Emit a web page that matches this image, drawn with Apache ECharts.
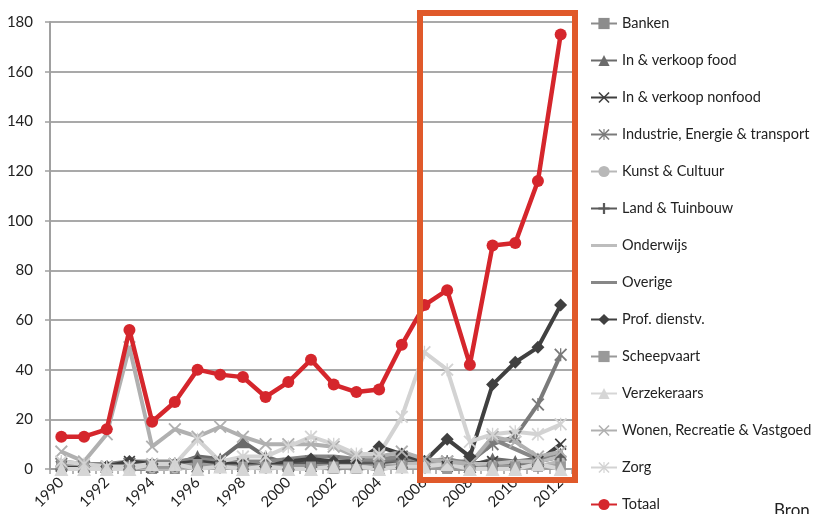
<!DOCTYPE html>
<html>
<head>
<meta charset="utf-8">
<script src="https://cdn.jsdelivr.net/npm/echarts@6/dist/echarts.min.js"></script>
<style>
  html, body { margin: 0; padding: 0; background: #fff; }
  #chart { width: 813px; height: 514px; }
</style>
</head>
<body>
<div id="chart"></div>
<script>
const years = ['1990', '1991', '1992', '1993', '1994', '1995', '1996', '1997', '1998', '1999', '2000', '2001',
  '2002', '2003', '2004', '2005', '2006', '2007', '2008', '2009', '2010', '2011', '2012'];

const banken = [2, 1, 0, 0, 0, 0, 2, 1, 2, 1, 1, 1, 0, 1, 0, 1, 1, 1, 0, 1, 1, 1, 2];
const inVerkoopFood = [2, 1, 1, 2, 1, 2, 5, 4, 11, 5, 2, 3, 2, 2, 3, 3, 2, 3, 1, 4, 3, 4, 6];
const inVerkoopNonfood = [1, 1, 1, 3, 2, 2, 1, 1, 1, 1, 1, 1, 1, 1, 0, 2, 1, 1, 2, 3, 0, 3, 10];
const industrie = [2, 1, 1, 2, 1, 2, 1, 3, 2, 1, 2, 3, 3, 2, 3, 5, 3, 3, 3, 10, 13, 26, 46];
const kunstCultuur = [1, 0, 0, 1, 0, 0, 1, 1, 1, 0, 1, 1, 1, 1, 1, 2, 1, 1, 1, 2, 2, 1, 3];
const landTuinbouw = [1, 1, 1, 1, 1, 1, 1, 1, 1, 1, 2, 2, 2, 2, 2, 2, 2, 2, 1, 2, 2, 3, 5];
const onderwijs = [1, 1, 1, 1, 1, 1, 1, 1, 1, 1, 1, 1, 1, 1, 1, 2, 2, 2, 2, 2, 3, 3, 5];
const overige = [3, 2, 2, 3, 3, 3, 4, 3, 3, 3, 4, 5, 5, 4, 4, 5, 3, 4, 2, 12, 8, 4, 7];
const profDienstv = [1, 1, 1, 3, 2, 2, 3, 2, 2, 1, 3, 4, 3, 3, 9, 6, 3, 12, 5, 34, 43, 49, 66];
const scheepvaart = [2, 2, 0, 1, 1, 1, 2, 1, 1, 1, 1, 1, 1, 0, 1, 1, 1, 0, 0, 1, 1, 1, 1];
const verzekeraars = [0, 0, 0, 0, 2, 2, 0, 1, 0, 1, 0, 0, 1, 1, 0, 1, 1, 2, 0, 0, 0, 2, 0];
const wonen = [7, 3, 14, 49, 9, 16, 13, 17, 13, 10, 10, 10, 9, 5, 5, 7, 4, 3, 2, 13, 11, 5, 7];
const zorg = [3, 2, 1, 1, 2, 2, 12, 3, 5, 5, 9, 13, 10, 6, 6, 21, 47, 40, 11, 14, 15, 14, 18];
const totaal = [13, 13, 16, 56, 19, 27, 40, 38, 37, 29, 35, 44, 34, 31, 32, 50, 66, 72, 42, 90, 91, 116, 175];

const yTicks = [0, 20, 40, 60, 80, 100, 120, 140, 160, 180];

// marker shapes that ECharts does not ship
const xMark = 'path://M2,0L10,8L18,0L20,2L12,10L20,18L18,20L10,12L2,20L0,18L8,10L0,2Z';
const starMark = xMark + 'M9,0L11,0L11,20L9,20Z';
const plusMark = 'path://M8,0L12,0L12,8L20,8L20,12L12,12L12,20L8,20L8,12L0,12L0,8L8,8Z';
// plain line for the legend of series without markers (tiny dots keep the box 26x14)
const lineIcon = 'path://M0,0L0.01,0L0,0.01ZM0,5.5L26,5.5L26,8.5L0,8.5ZM0,14L0.01,14L0,13.99Z';

function grey(name, data, color, symbol, size) {
  return {
    name,
    type: 'line',
    data,
    symbol: symbol || 'none',
    symbolSize: size || 10,
    showSymbol: !!symbol,
    lineStyle: { width: 4, color },
    itemStyle: { color },
    emphasis: { disabled: true },
    z: 2
  };
}

const series = [
  grey('Banken', banken, '#8c8c8c', 'rect', 10),
  grey('In & verkoop food', inVerkoopFood, '#6b6b6b', 'triangle', 13),
  grey('In & verkoop nonfood', inVerkoopNonfood, '#3f3f3f', xMark, 12),
  grey('Industrie, Energie & transport', industrie, '#7a7a7a', starMark, 13),
  grey('Kunst & Cultuur', kunstCultuur, '#b8b8b8', 'circle', 9),
  grey('Land & Tuinbouw', landTuinbouw, '#5a5a5a', plusMark, 11),
  grey('Onderwijs', onderwijs, '#bdbdbd'),
  grey('Overige', overige, '#878787'),
  grey('Prof. dienstv.', profDienstv, '#404040', 'diamond', 13),
  grey('Scheepvaart', scheepvaart, '#999999', 'rect', 10),
  grey('Verzekeraars', verzekeraars, '#d6d6d6', 'triangle', 14),
  grey('Wonen, Recreatie & Vastgoed', wonen, '#b0b0b0', xMark, 13),
  grey('Zorg', zorg, '#d3d3d3', starMark, 13),
  {
    name: 'Totaal',
    type: 'line',
    data: totaal,
    symbol: 'circle',
    symbolSize: 12,
    lineStyle: { width: 4.5, color: '#d5262c' },
    itemStyle: { color: '#d5262c' },
    emphasis: { disabled: true },
    z: 5
  }
];

const legendBase = {
  orient: 'vertical',
  left: 585,
  padding: 5,
  itemWidth: 26,
  itemHeight: 14,
  itemGap: 22,
  selectedMode: false,
  textStyle: { fontSize: 14.5, color: '#222', fontFamily: 'Lato' }
};

const legendItems = series.map(s => (s.symbol === 'none' ? { name: s.name, icon: lineIcon } : s.name));

const chart = echarts.init(document.getElementById('chart'), null, { renderer: 'canvas' });

chart.setOption({
  animation: false,
  textStyle: { fontFamily: 'Lato' },
  grid: { left: 50, right: 241, top: 22, bottom: 45, containLabel: false },
  legend: [
    { ...legendBase, top: 11, data: legendItems.slice(0, 13) },
    { ...legendBase, top: 492, data: legendItems.slice(13) }
  ],
  xAxis: [
    {
      type: 'category',
      data: years,
      boundaryGap: true,
      axisLine: { lineStyle: { color: '#a0a0a0', width: 2 } },
      axisTick: { show: false },
      axisLabel: { interval: 1, rotate: 45, margin: 11, fontSize: 15, color: '#222' },
      splitLine: { show: false }
    },
    {
      // only carries the small tick marks along the bottom
      type: 'value',
      position: 'bottom',
      min: 0,
      max: 46,
      interval: 1,
      axisLine: { show: false },
      axisTick: { show: true, length: 5, lineStyle: { color: '#a0a0a0', width: 1.5 } },
      axisLabel: { show: false },
      splitLine: { show: false }
    }
  ],
  yAxis: {
    type: 'value',
    min: yTicks[0],
    max: yTicks[yTicks.length - 1],
    interval: 20,
    axisLine: { show: true, lineStyle: { color: '#a0a0a0', width: 2 } },
    axisTick: { show: true, length: 5, lineStyle: { color: '#a0a0a0', width: 1.5 } },
    axisLabel: { margin: 17, fontSize: 15, color: '#222' },
    splitLine: { lineStyle: { color: '#8c8c8c', width: 1.5 } }
  },
  series,
  graphic: [
    {
      type: 'rect',
      shape: { x: 420, y: 13, width: 155, height: 467 },
      style: { fill: 'none', stroke: '#e0592a', lineWidth: 6 },
      z: 100
    },
    {
      type: 'text',
      left: 774,
      top: 502,
      style: { text: 'Bron', fontSize: 17, fill: '#222', fontFamily: 'Lato' },
      z: 100
    }
  ]
});
</script>
</body>
</html>
